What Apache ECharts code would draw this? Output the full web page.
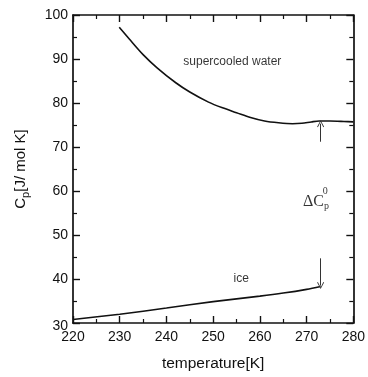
<!DOCTYPE html>
<html>
<head>
<meta charset="utf-8">
<script src="https://cdn.jsdelivr.net/npm/echarts@6/dist/echarts.min.js"></script>
<style>html,body{margin:0;padding:0;background:#fff}#c{width:368px;height:377px}</style>
</head>
<body>
<div id="c"></div>
<script>
var waterT  = [229.9, 232, 235, 238, 242, 245, 249, 252, 255, 258, 261, 264, 267, 269, 271, 272.7, 275, 278, 280];
var waterCp = [97.2, 94.6, 91.0, 88.0, 84.6, 82.5, 80.2, 78.9, 77.8, 76.7, 75.9, 75.5, 75.3, 75.4, 75.7, 75.9, 75.9, 75.8, 75.7];
var iceT  = [220, 230, 240, 250, 260, 265, 270, 273];
var iceCp = [30.8, 32.0, 33.4, 34.85, 36.1, 36.8, 37.65, 38.3];
var xTicks = [220, 230, 240, 250, 260, 270, 280];
var yTicks = [30, 40, 50, 60, 70, 80, 90, 100];
var arrowUp = [[273, 71.2], [273, 75.3]];
var arrowDown = [[273, 44.7], [273, 38.5]];
var labelWater = [254.1, 89.5];
var labelIce = [256.0, 40.0];
var labelDelta = [272.0, 57.5];

function pairs(xs, ys) { return xs.map(function (x, i) { return [x, ys[i]]; }); }

var font = 'Liberation Sans';
var ink = '#111';
var chevron = 'path://M0,8 L4,0 L8,8 L7.1,8.5 L4,1.9 L0.9,8.5 Z';

function axisCommon(showLabel) {
  return {
    axisLine: { show: true, onZero: false, lineStyle: { color: ink, width: 1.7 } },
    axisTick: { show: true, inside: true, length: 7, lineStyle: { color: ink, width: 1.4 } },
    minorTick: { show: true, splitNumber: 2, length: 4, lineStyle: { color: ink, width: 1.2 } },
    splitLine: { show: false },
    axisLabel: { show: showLabel, color: ink, fontFamily: font, fontSize: 14 }
  };
}

var xBottom = Object.assign(axisCommon(true), {
  type: 'value', position: 'bottom', min: xTicks[0], max: xTicks[xTicks.length - 1], interval: 10,
  name: 'temperature[K]', nameLocation: 'middle', nameGap: 33,
  nameTextStyle: { color: ink, fontFamily: font, fontSize: 15.5 }
});
xBottom.axisLabel.margin = 7;
var xTop = Object.assign(axisCommon(false), {
  type: 'value', position: 'top', min: xTicks[0], max: xTicks[xTicks.length - 1], interval: 10
});
var yLeft = Object.assign(axisCommon(true), {
  type: 'value', position: 'left', min: yTicks[0], max: yTicks[yTicks.length - 1], interval: 10,
  name: '{a|C}{s|p}{a|[J/ mol K]}', nameLocation: 'middle', nameGap: 42, nameRotate: 90,
  nameTextStyle: { color: ink, fontFamily: font, fontSize: 15,
    rich: { a: { fontFamily: font, fontSize: 15, color: ink },
            s: { fontFamily: font, fontSize: 11, color: ink, padding: [10, 0, 0, 0] } } }
});
yLeft.axisLabel.margin = 5;
yLeft.axisLabel.formatter = function (v) { return v === yTicks[0] ? '{low|' + v + '}' : String(v); };
yLeft.axisLabel.rich = { low: { fontFamily: font, fontSize: 14, color: ink, padding: [7, 0, 0, 0] } };
var yRight = Object.assign(axisCommon(false), {
  type: 'value', position: 'right', min: yTicks[0], max: yTicks[yTicks.length - 1], interval: 10
});

var option = {
  animation: false,
  backgroundColor: '#fff',
  grid: { left: 73, right: 14, top: 15, bottom: 52, containLabel: false },
  xAxis: [xBottom, xTop],
  yAxis: [yLeft, yRight],
  series: [
    {
      type: 'line', name: 'supercooled water', data: pairs(waterT, waterCp), smooth: 0.3,
      showSymbol: false, symbol: 'none', lineStyle: { color: ink, width: 1.6 }
    },
    {
      type: 'line', name: 'ice', data: pairs(iceT, iceCp), smooth: 0.3,
      showSymbol: false, symbol: 'none', lineStyle: { color: ink, width: 1.6 },
      markLine: {
        silent: true, symbol: ['none', chevron], symbolSize: [7, 7],
        label: { show: false },
        lineStyle: { color: '#333', width: 1, type: 'solid' },
        data: [
          [{ coord: arrowUp[0] }, { coord: arrowUp[1] }],
          [{ coord: arrowDown[0] }, { coord: arrowDown[1] }]
        ]
      }
    },
    {
      type: 'scatter', symbolSize: 0, silent: true,
      data: [
        { value: labelWater, label: { formatter: 'supercooled water', fontSize: 12, fontFamily: font, color: '#000' } },
        { value: labelIce, label: { formatter: 'ice', fontSize: 12, fontFamily: font, color: '#000' } },
        { value: labelDelta, label: { formatter: '{d|\u0394C}{s|p}', rich: {
            d: { fontFamily: 'Liberation Serif', fontSize: 16, color: '#000' },
            s: { fontFamily: 'Liberation Serif', fontSize: 10, color: '#000', padding: [9, 0, 0, 0] } } } }
      ],
      label: { show: true, position: 'inside', color: '#000' }
    },
    {
      type: 'scatter', symbolSize: 0, silent: true,
      data: [{ value: [labelDelta[0] + 2.0, labelDelta[1] + 2.5] }],
      label: { show: true, position: 'inside', formatter: '0', color: '#000', fontFamily: 'Liberation Serif', fontSize: 10 }
    }
  ]
};
echarts.init(document.getElementById('c'), null, { renderer: 'canvas' }).setOption(option);
</script>
</body>
</html>
